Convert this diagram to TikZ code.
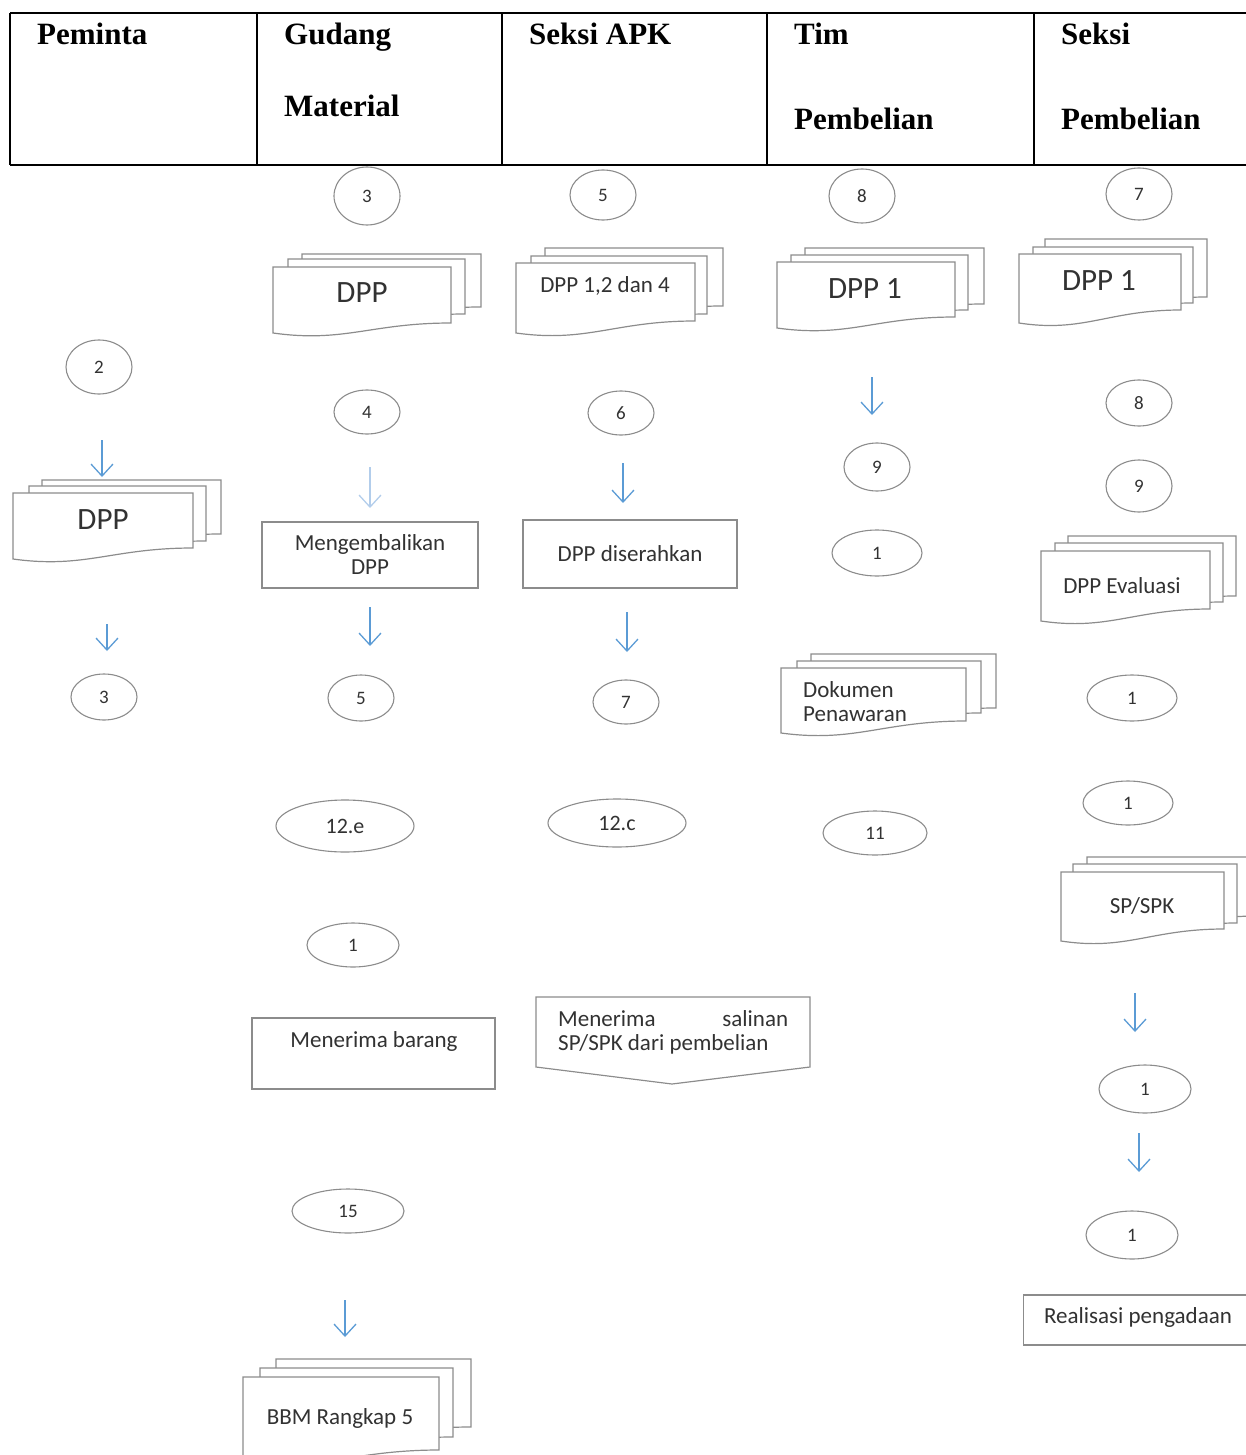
\documentclass[tikz,border=0pt]{standalone}
\usepackage{fontspec}
\setmainfont{Liberation Serif}
\newfontfamily\calfont{Carlito}
\usetikzlibrary{shapes.geometric,arrows.meta}
\definecolor{docgray}{RGB}{140,140,140}
\definecolor{txtgray}{RGB}{50,50,50}
\definecolor{arrblue}{RGB}{91,155,213}
\definecolor{arrfaint}{RGB}{178,205,235}
\newcommand\docpage[5]{\draw[docline] (#1,#3) -- (#2,#3) -- (#2,#4) .. controls ({#2-0.45*(#2-#1)},#4) and ({#1+0.4*(#2-#1)},{#5+10}) .. (#1,#5) -- cycle;}
\tikzset{
  hdr/.style={draw=black, line width=2pt},
  head/.style={font=\bfseries\fontsize{31}{36}\selectfont, anchor=base west, inner sep=0pt},
  docline/.style={draw=docgray, line width=1.2pt, fill=white},
  ell/.style={ellipse, draw=docgray, line width=1.1pt, fill=white, inner sep=0pt, text=txtgray, font=\calfont\fontsize{19}{22}\selectfont},
  doctext/.style={inner sep=0pt, text=txtgray, font=\calfont\fontsize{23}{24}\selectfont},
  bigdoc/.style={inner sep=0pt, text=txtgray, font=\calfont\fontsize{31}{34}\selectfont},
  procbox/.style={draw=docgray, line width=1.2pt, fill=white, inner sep=0pt, align=center, text=txtgray, font=\calfont\fontsize{23}{24}\selectfont},
  flow/.style={draw=arrblue, line width=1.3pt, -{Straight Barb[length=12pt,width=22pt]}},
  flowfaint/.style={flow, draw=arrfaint}
}
\begin{document}
\begin{tikzpicture}[x=1pt,y=-1pt]
\useasboundingbox (0,0) rectangle (1246,1455);
\clip (0,0) rectangle (1246,1455);
% header
\draw[hdr] (10,13) -- (1250,13);
\draw[hdr] (10,165) -- (1250,165);
\foreach \xx in {10,257,502,767,1034} \draw[hdr] (\xx,13) -- (\xx,165);
\node[head] (hpem) at (37,45) {Peminta};
\node[head] (hgud1) at (284,45) {Gudang};
\node[head] (hgud2) at (284,117) {Material};
\node[head] (hapk) at (529,45) {Seksi APK};
\node[head] (htim1) at (794,45) {Tim};
\node[head] (htim2) at (794,130) {Pembelian};
\node[head] (hsp1) at (1061,45) {Seksi};
\node[head] (hsp2) at (1061,130) {Pembelian};

% ---------- Peminta ----------
\node[ell, minimum width=66, minimum height=54] (e2p) at (99,367) {2};
\docpage{42}{221}{480}{534}{544}
\docpage{29}{206}{486}{541}{551}
\docpage{13}{193}{493}{548}{559}
\node[bigdoc] (dpp0) at (103,520) {DPP};
\node[ell, minimum width=66, minimum height=46] (e3p) at (104,697) {3};
\coordinate (a1s) at (102,440); \coordinate (a1e) at (102,477);
\coordinate (a2s) at (107,624); \coordinate (a2e) at (107,651);
\draw[flow] (a1s) -- (a1e);
\draw[flow] (a2s) -- (a2e);

% ---------- Gudang Material ----------
\node[ell, minimum width=66, minimum height=58] (e3g) at (367,196) {3};
\docpage{302}{481}{254}{307}{317}
\docpage{288}{465}{259}{314}{324}
\docpage{273}{451}{267}{323}{333}
\node[bigdoc] (dpp1) at (362,293) {DPP};
\node[ell, minimum width=66, minimum height=44] (e4g) at (367,412) {4};
\node[procbox, minimum width=216, minimum height=66] (bmg) at (370,555) {Mengembalikan\\DPP};
\node[ell, minimum width=66, minimum height=46] (e5g) at (361,698) {5};
\node[ell, minimum width=138, minimum height=52, font=\calfont\fontsize{22}{24}\selectfont] (e12e) at (345,826) {12.e};
\node[ell, minimum width=92, minimum height=44] (e1g) at (353,945) {1};
\node[procbox, minimum width=243, minimum height=71] (bbar) at (373.5,1053.5) {};
\node[doctext] (tbar) at (374,1041) {Menerima barang};
\node[ell, minimum width=112, minimum height=44] (e15) at (348,1211) {15};
\docpage{276}{471}{1359}{1427}{1437}
\docpage{260}{453}{1368}{1437}{1447}
\docpage{243}{439}{1377}{1450}{1462}
\node[doctext] (bbm) at (340,1418) {BBM Rangkap 5};
\coordinate (a3s) at (370,467); \coordinate (a3e) at (370,508);
\coordinate (a4s) at (370,607); \coordinate (a4e) at (370,646);
\coordinate (a10s) at (345,1300); \coordinate (a10e) at (345,1337);
\draw[flowfaint] (a3s) -- (a3e);
\draw[flow] (a4s) -- (a4e);
\draw[flow] (a10s) -- (a10e);

% ---------- Seksi APK ----------
\node[ell, minimum width=66, minimum height=50] (e5a) at (603,195) {5};
\docpage{545}{723}{248}{306}{316}
\docpage{531}{707}{256}{314}{324}
\docpage{516}{695}{263}{321}{333}
\node[doctext] (dpp124) at (605,286) {DPP 1,2 dan 4};
\node[ell, minimum width=66, minimum height=44] (e6a) at (621,413) {6};
\node[procbox, minimum width=214, minimum height=68] (bds) at (630,554) {DPP diserahkan};
\node[ell, minimum width=66, minimum height=44] (e7a) at (626,702) {7};
\node[ell, minimum width=138, minimum height=48, font=\calfont\fontsize{22}{24}\selectfont] (e12c) at (617,823) {12.c};
\node[doctext, align=left, anchor=west] (msal) at (558,1032) {\makebox[230pt][s]{Menerima\hfill salinan}\\SP/SPK dari pembelian};
\coordinate (p1) at (536,997); \coordinate (p2) at (810,997);
\coordinate (p3) at (810,1067); \coordinate (p4) at (672,1084); \coordinate (p5) at (536,1067);
\draw[docline, fill=none] (p1) -- (p2) -- (p3) -- (p4) -- (p5) -- cycle;
\coordinate (a5s) at (623,463); \coordinate (a5e) at (623,503);
\coordinate (a6s) at (627,612); \coordinate (a6e) at (627,652);
\draw[flow] (a5s) -- (a5e);
\draw[flow] (a6s) -- (a6e);

% ---------- Tim Pembelian ----------
\node[ell, minimum width=66, minimum height=54] (e8t) at (862,196) {8};
\docpage{805}{984}{248}{304}{314}
\docpage{791}{968}{255}{310}{320}
\docpage{777}{955}{262}{317}{328}
\node[bigdoc] (dpp1t) at (865,289) {DPP 1};
\node[ell, minimum width=66, minimum height=48] (e9t) at (877,467) {9};
\node[ell, minimum width=90, minimum height=46] (e1t) at (877,553) {1};
\docpage{811}{996}{654}{708}{718}
\docpage{797}{981}{661}{713}{723}
\docpage{781}{966}{668}{721}{733}
\node[doctext, align=left, anchor=west] (dokpen) at (803,702) {Dokumen\\Penawaran};
\node[ell, minimum width=104, minimum height=44] (e11) at (875,833) {11};
\coordinate (a7s) at (872,377); \coordinate (a7e) at (872,415);
\draw[flow] (a7s) -- (a7e);

% ---------- Seksi Pembelian ----------
\node[ell, minimum width=66, minimum height=52] (e7s) at (1139,194) {7};
\docpage{1045}{1207}{239}{297}{307}
\docpage{1033}{1193}{247}{303}{313}
\docpage{1019}{1181}{254}{310}{323}
\node[bigdoc] (dpp1s) at (1099,281) {DPP 1};
\node[ell, minimum width=66, minimum height=46] (e8s) at (1139,403) {8};
\node[ell, minimum width=66, minimum height=52] (e9s) at (1139,486) {9};
\docpage{1068}{1236}{536}{596}{606}
\docpage{1055}{1223}{543}{602}{612}
\docpage{1041}{1210}{551}{609}{621}
\node[doctext] (dppev) at (1122,586) {DPP Evaluasi};
\node[ell, minimum width=90, minimum height=46] (e1s) at (1132,698) {1};
\node[ell, minimum width=90, minimum height=44] (e1s2) at (1128,803) {1};
\docpage{1087}{1260}{857}{916}{926}
\docpage{1073}{1237}{864}{923}{933}
\docpage{1061}{1224}{872}{929}{941}
\node[doctext] (spspk) at (1142,906) {SP/SPK};
\node[ell, minimum width=92, minimum height=48] (e1s3) at (1145,1089) {1};
\node[ell, minimum width=92, minimum height=48] (e1s4) at (1132,1235) {1};
\node[procbox, minimum width=240, minimum height=50, anchor=west] (breal) at (1023,1320) {};
\node[doctext] (treal) at (1138,1317) {Realisasi pengadaan};
\coordinate (a8s) at (1135,993); \coordinate (a8e) at (1135,1032);
\coordinate (a9s) at (1139,1133); \coordinate (a9e) at (1139,1172);
\draw[flow] (a8s) -- (a8e);
\draw[flow] (a9s) -- (a9e);
\end{tikzpicture}
\end{document}
